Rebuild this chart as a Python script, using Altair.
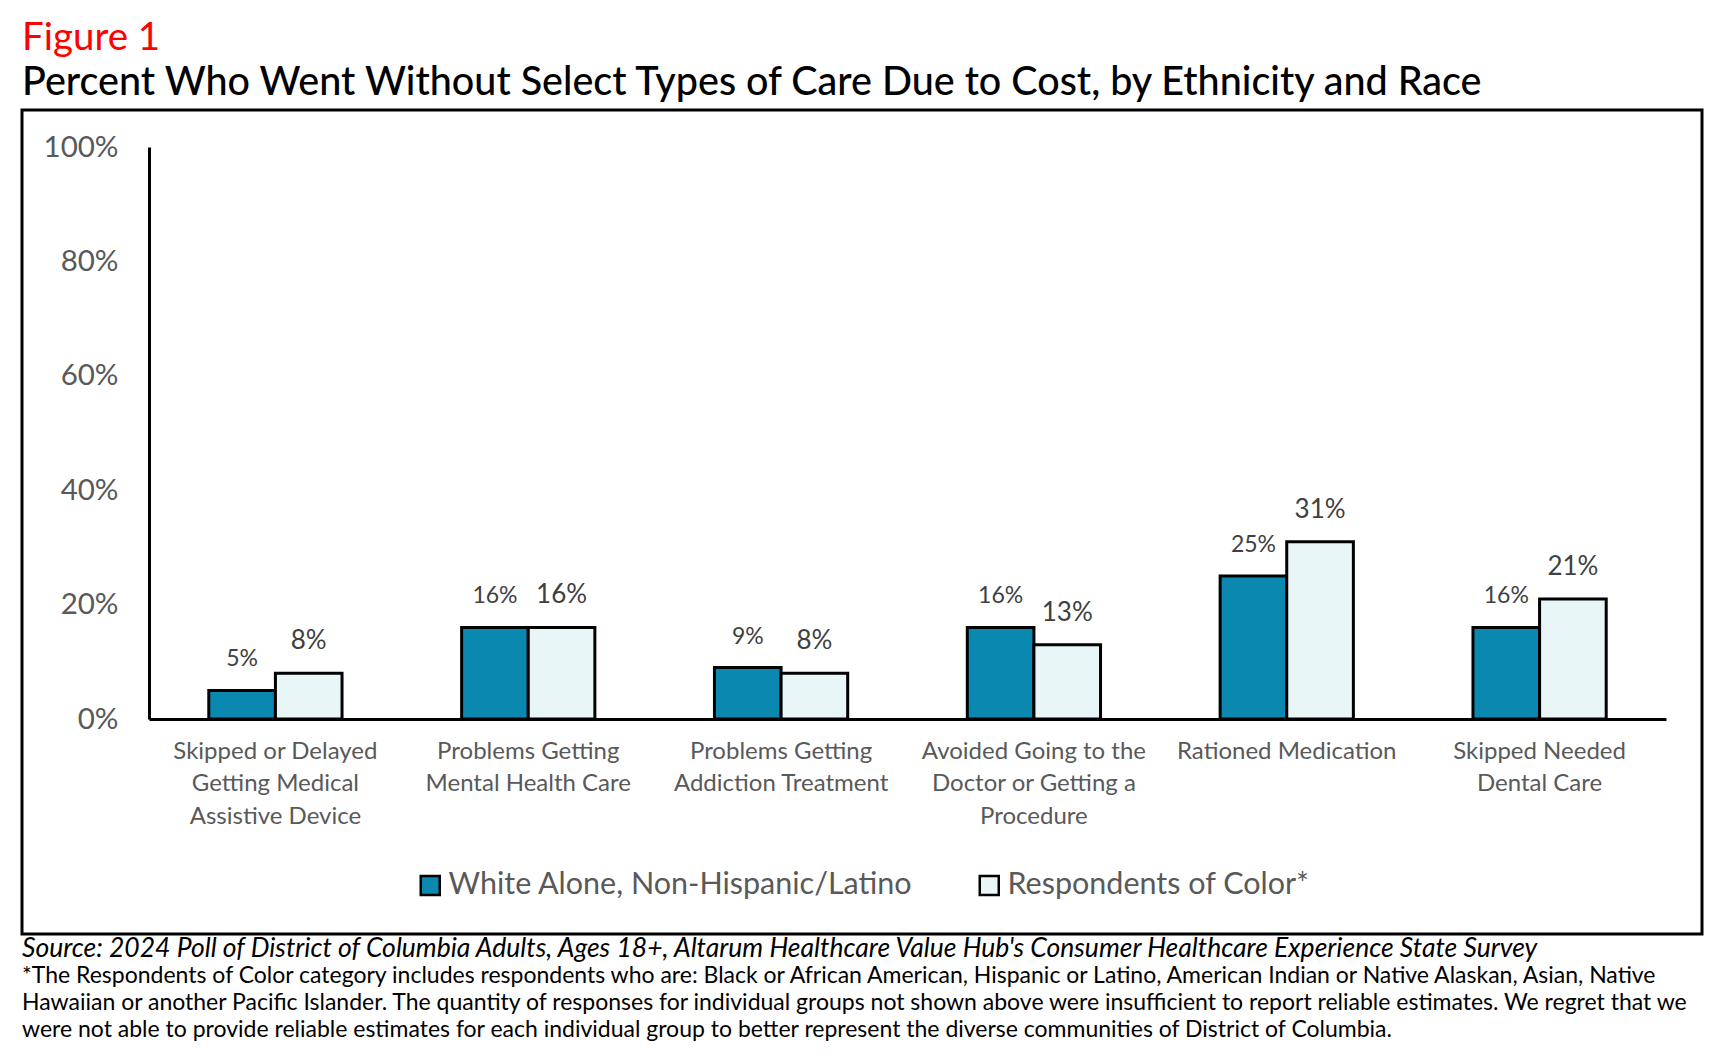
import altair as alt
import pandas as pd

# ---------------- data ----------------
CATEGORIES = [
    "Skipped or Delayed\nGetting Medical\nAssistive Device",
    "Problems Getting\nMental Health Care",
    "Problems Getting\nAddiction Treatment",
    "Avoided Going to the\nDoctor or Getting a\nProcedure",
    "Rationed Medication",
    "Skipped Needed\nDental Care",
]
SERIES = ["White Alone, Non-Hispanic/Latino", "Respondents of Color*"]
WHITE_VALUES = [5, 16, 9, 16, 25, 16]
POC_VALUES = [8, 16, 8, 13, 31, 21]
Y_TICKS = [0, 20, 40, 60, 80, 100]
COLORS = ["#0B88B0", "#E8F6F8"]

FIGURE_LABEL = "Figure 1"
TITLE = "Percent Who Went Without Select Types of Care Due to Cost, by Ethnicity and Race"
SOURCE = ("Source: 2024 Poll of District of Columbia Adults, Ages 18+, Altarum Healthcare "
          "Value Hub's Consumer Healthcare Experience State Survey")
FOOTNOTE = [
    "*The Respondents of Color category includes respondents who are: Black or African American, "
    "Hispanic or Latino, American Indian or Native Alaskan, Asian, Native",
    "Hawaiian or another Pacific Islander. The quantity of responses for individual groups not shown "
    "above were insufficient to report reliable estimates. We regret that we",
    "were not able to provide reliable estimates for each individual group to better represent the "
    "diverse communities of District of Columbia.",
]

rows = []
for c, w, p in zip(CATEGORIES, WHITE_VALUES, POC_VALUES):
    rows.append({"category": c, "series": SERIES[0], "value": w})
    rows.append({"category": c, "series": SERIES[1], "value": p})
df = pd.DataFrame(rows)

FONT = "Lato"
W, H = 1517, 572

x_enc = alt.X(
    "category:N",
    sort=CATEGORIES,
    scale=alt.Scale(paddingInner=0.473, paddingOuter=0.2365),
    axis=alt.Axis(
        title=None,
        labelAngle=0,
        labelExpr="split(datum.label, '\\n')",
        labelFont=FONT,
        labelFontSize=24,
        labelColor="#595959",
        labelLineHeight=32.6,
        labelPadding=20,
        labelLimit=500,
        labelOverlap=False,
        ticks=False,
        domainColor="black",
        domainWidth=3,
        grid=False,
    ),
)
xoff = alt.XOffset("series:N", sort=SERIES,
                   scale=alt.Scale(domain=SERIES, paddingInner=0, paddingOuter=0))
y_enc = alt.Y(
    "value:Q",
    scale=alt.Scale(domain=[0, 100], nice=False),
    axis=alt.Axis(
        title=None,
        values=Y_TICKS,
        labelExpr="datum.value + '%'",
        labelFont=FONT,
        labelFontSize=29.5,
        labelColor="#595959",
        labelPadding=31,
        ticks=False,
        grid=False,
        domainColor="black",
        domainWidth=3,
    ),
)

base = alt.Chart(df)

bars = base.mark_bar(stroke="black", strokeWidth=3).encode(
    x=x_enc,
    xOffset=xoff,
    y=y_enc,
    color=alt.Color(
        "series:N",
        sort=SERIES,
        scale=alt.Scale(domain=SERIES, range=COLORS),
        legend=alt.Legend(
            title=None,
            orient="none",
            legendX=266,
            legendY=723,
            direction="horizontal",
            symbolType="square",
            symbolSize=361,
            symbolStrokeColor="black",
            symbolStrokeWidth=2.5,
            symbolOpacity=1,
            labelFont=FONT,
            labelFontSize=30.5,
            labelColor="#595959",
            labelOffset=3,
            labelLimit=800,
            columnPadding=61,
            padding=0,
        ),
    ),
)


def label_layer(series_name, font_size):
    return base.mark_text(
        font=FONT, color="#404040", baseline="alphabetic", align="center",
        dy=-24, fontSize=font_size
    ).transform_filter(
        alt.datum.series == series_name
    ).transform_calculate(
        label="datum.value + '%'"
    ).encode(
        x=alt.X("category:N", sort=CATEGORIES),
        xOffset=xoff,
        y=alt.Y("value:Q"),
        text="label:N",
    )


labels_white = label_layer(SERIES[0], 23)
labels_poc = label_layer(SERIES[1], 26)

one = pd.DataFrame({"k": [0]})

frame = alt.Chart(one).mark_rect(
    fill="white", fillOpacity=0, stroke="black", strokeWidth=3
).encode(
    x=alt.value(-127), x2=alt.value(1553), y=alt.value(-37), y2=alt.value(787)
)

fig_text = alt.Chart(one).mark_text(
    text=FIGURE_LABEL, font=FONT, fontSize=38.5, color="#FF0000",
    align="left", baseline="alphabetic"
).encode(x=alt.value(-127), y=alt.value(-97))

title_text = alt.Chart(one).mark_text(
    text=TITLE, font=FONT, fontSize=39.5, fontWeight=500, color="black",
    align="left", baseline="alphabetic"
).encode(x=alt.value(-127), y=alt.value(-52))

source_text = alt.Chart(one).mark_text(
    text=SOURCE, font=FONT, fontSize=26.5, fontStyle="italic", color="black",
    align="left", baseline="alphabetic"
).encode(x=alt.value(-127), y=alt.value(810))

foot_text = alt.Chart(one).mark_text(
    text=FOOTNOTE, font=FONT, fontSize=23, color="black", lineHeight=26.8,
    align="left", baseline="alphabetic"
).encode(x=alt.value(-127), y=alt.value(836))

chart = alt.layer(
    frame, bars, labels_white, labels_poc, fig_text, title_text, source_text, foot_text
).properties(
    width=W,
    height=H,
    autosize=alt.AutoSizeParams(type="none"),
    padding={"left": 141, "top": 139, "right": 50, "bottom": 329},
    background="white",
).configure_view(stroke=None)

chart.save("out.html", embed_options={"renderer": "svg", "actions": False})
